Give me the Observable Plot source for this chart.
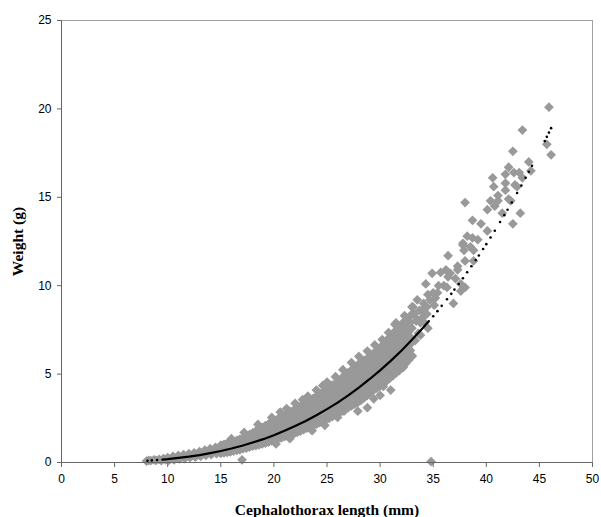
<!DOCTYPE html>
<html>
<head>
<meta charset="utf-8">
<script src="https://cdn.jsdelivr.net/npm/d3@7"></script>
<script src="https://cdn.jsdelivr.net/npm/@observablehq/plot@0.6"></script>
<style>
  body { margin: 0; background: #fff; }
</style>
</head>
<body>
<div id="chart"></div>
<script>
// Axis ticks
const xTicks = [0, 5, 10, 15, 20, 25, 30, 35, 40, 45, 50];
const yTicks = [0, 5, 10, 15, 20, 25];

const obsLength = [
  8.0, 8.2, 8.4, 8.7, 8.9, 9.2, 9.4, 9.6, 9.8, 10.0, 10.1,
  10.3, 10.5, 10.6, 10.8, 11.0, 11.1, 11.3, 11.5, 11.6, 11.8, 12.0, 12.1, 12.3, 12.5, 12.6, 12.8, 13.0, 13.1, 13.3,
  13.5, 13.6, 13.8, 14.0, 14.1, 14.3, 14.5, 14.6, 14.8,
  17.0,
  15.0, 15.0, 15.0, 15.0, 15.3, 15.3, 15.3, 15.3, 15.6, 15.6, 15.6, 15.6, 15.9, 15.9, 15.9, 15.9,
  16.2, 16.2, 16.2, 16.2, 16.5, 16.5, 16.5, 16.5, 16.8, 16.8, 16.8, 16.8, 17.1, 17.1, 17.1, 17.1,
  17.4, 17.4, 17.4, 17.4, 17.7, 17.7, 17.7, 17.7, 18.0, 18.0, 18.0, 18.0, 18.3, 18.3, 18.3, 18.3,
  18.6, 18.6, 18.6, 18.6, 18.9, 18.9, 18.9, 18.9, 19.2, 19.2, 19.2, 19.2, 19.5, 19.5, 19.5, 19.5,
  19.8, 19.8, 19.8, 19.8, 20.1, 20.1, 20.1, 20.1, 20.4, 20.4, 20.4, 20.4, 20.7, 20.7, 20.7, 20.7,
  21.0, 21.0, 21.0, 21.0, 21.3, 21.3, 21.3, 21.3, 21.6, 21.6, 21.6, 21.6, 21.9, 21.9, 21.9, 21.9,
  22.2, 22.2, 22.2, 22.2, 22.5, 22.5, 22.5, 22.5, 22.8, 22.8, 22.8, 22.8, 23.1, 23.1, 23.1, 23.1,
  23.4, 23.4, 23.4, 23.4, 23.7, 23.7, 23.7, 23.7, 24.0, 24.0, 24.0, 24.0, 24.3, 24.3, 24.3, 24.3,
  24.6, 24.6, 24.6, 24.6, 24.9, 24.9, 24.9, 24.9, 25.2, 25.2, 25.2, 25.2, 25.5, 25.5, 25.5, 25.5,
  25.8, 25.8, 25.8, 25.8, 26.1, 26.1, 26.1, 26.1, 26.4, 26.4, 26.4, 26.4, 26.7, 26.7, 26.7, 26.7,
  27.0, 27.0, 27.0, 27.0, 27.3, 27.3, 27.3, 27.3, 27.6, 27.6, 27.6, 27.6, 27.9, 27.9, 27.9, 27.9,
  28.2, 28.2, 28.2, 28.2, 28.5, 28.5, 28.5, 28.5, 28.8, 28.8, 28.8, 28.8, 29.1, 29.1, 29.1, 29.1,
  29.4, 29.4, 29.4, 29.4, 29.7, 29.7, 29.7, 29.7, 30.0, 30.0, 30.0, 30.0, 30.3, 30.3, 30.3, 30.3,
  30.6, 30.6, 30.6, 30.6, 30.9, 30.9, 30.9, 30.9, 31.2, 31.2, 31.2, 31.2, 31.5, 31.5, 31.5, 31.5,
  31.8, 31.8, 31.8, 31.8, 32.1, 32.1, 32.1, 32.1, 32.4, 32.4, 32.4, 32.4, 32.7, 32.7, 32.7, 32.7,
  33.0, 33.0, 33.0, 33.0,
  26.0, 26.6, 27.9, 28.8, 29.4, 30.0, 30.3, 31.0, 31.4, 32.2, 33.0, 33.1, 33.2, 33.5, 33.5, 33.7, 33.8, 34.0,
  34.1, 34.3, 34.4, 34.5, 34.5, 34.7, 34.8, 34.9, 35.0, 35.1, 35.2, 35.4, 35.5, 35.7, 36.0, 36.2, 36.3,
  36.4, 36.4, 36.6, 36.9, 37.1, 37.3, 37.3, 37.6, 37.6, 37.8, 37.8, 37.9, 38.0, 38.0, 38.0, 38.2, 38.5,
  38.7, 38.7, 38.8, 38.8, 39.2, 39.5, 40.1, 40.1, 40.4, 40.6, 40.7, 40.8, 41.1, 41.1, 41.5, 41.8, 41.8,
  41.8, 42.1, 42.1, 42.3, 42.5, 42.5, 42.6, 42.7, 42.9, 43.1, 43.2, 43.4, 43.4, 44.0, 44.2, 45.7, 45.9, 46.1
];
const obsWeight = [
  0.08, 0.12, 0.10, 0.15, 0.12, 0.18, 0.10, 0.22, 0.15, 0.28, 0.12,
  0.20, 0.35, 0.15, 0.25, 0.40, 0.20, 0.30, 0.45, 0.22, 0.35, 0.50, 0.28, 0.40, 0.55, 0.30, 0.45, 0.62, 0.35, 0.50,
  0.70, 0.40, 0.58, 0.78, 0.45, 0.62, 0.85, 0.50, 0.70,
  0.15,
  0.52, 0.68, 0.85, 0.98, 0.55, 0.72, 0.90, 1.03, 0.58, 0.75, 0.92, 1.08, 0.60, 0.80, 0.98, 1.14,
  0.65, 0.84, 1.02, 1.18, 0.68, 0.88, 1.08, 1.25, 0.72, 0.94, 1.12, 1.32, 0.78, 0.99, 1.20, 1.38,
  0.82, 1.05, 1.27, 1.48, 0.87, 1.10, 1.35, 1.58, 0.92, 1.18, 1.42, 1.68, 0.96, 1.25, 1.50, 1.78,
  1.00, 1.30, 1.60, 1.88, 1.05, 1.36, 1.68, 1.98, 1.10, 1.42, 1.75, 2.08, 1.16, 1.50, 1.84, 2.18,
  1.22, 1.56, 1.92, 2.28, 1.28, 1.64, 2.00, 2.38, 1.35, 1.72, 2.10, 2.48, 1.40, 1.80, 2.18, 2.58,
  1.46, 1.86, 2.25, 2.68, 1.52, 1.93, 2.35, 2.78, 1.58, 2.00, 2.44, 2.88, 1.64, 2.08, 2.52, 2.98,
  1.70, 2.16, 2.62, 3.08, 1.78, 2.25, 2.72, 3.18, 1.86, 2.32, 2.80, 3.28, 1.94, 2.42, 2.92, 3.42,
  2.00, 2.50, 3.02, 3.52, 2.08, 2.58, 3.10, 3.62, 2.16, 2.68, 3.20, 3.74, 2.25, 2.78, 3.32, 3.88,
  2.34, 2.88, 3.42, 3.98, 2.42, 2.98, 3.56, 4.12, 2.50, 3.06, 3.66, 4.24, 2.60, 3.18, 3.78, 4.38,
  2.70, 3.28, 3.88, 4.48, 2.80, 3.40, 4.00, 4.62, 2.90, 3.50, 4.14, 4.78, 3.00, 3.62, 4.26, 4.92,
  3.10, 3.74, 4.40, 5.08, 3.20, 3.86, 4.54, 5.22, 3.30, 3.98, 4.68, 5.38, 3.40, 4.10, 4.80, 5.52,
  3.52, 4.22, 4.94, 5.66, 3.66, 4.36, 5.06, 5.78, 3.80, 4.50, 5.18, 5.88, 3.96, 4.64, 5.32, 6.02,
  4.10, 4.78, 5.46, 6.18, 4.20, 4.90, 5.60, 6.32, 4.32, 5.04, 5.76, 6.48, 4.46, 5.20, 5.92, 6.68,
  4.60, 5.36, 6.10, 6.88, 4.76, 5.52, 6.28, 7.08, 4.90, 5.68, 6.46, 7.28, 5.06, 5.84, 6.64, 7.48,
  5.20, 6.00, 6.82, 7.68, 5.36, 6.18, 7.00, 7.88, 5.60, 6.40, 7.18, 7.98, 5.80, 6.60, 7.40, 8.20,
  6.00, 6.80, 7.60, 8.40,
  2.55, 2.90, 2.90, 3.10, 3.60, 3.80, 4.30, 4.10, 7.80, 5.40, 6.05, 8.80, 8.40, 8.10, 9.20, 8.60, 7.90, 8.20,
  9.00, 10.10, 8.80, 7.60, 9.50, 9.20, 0.05, 10.70, 9.60, 8.90, 9.30, 9.60, 10.00, 10.75, 10.00, 10.90, 9.90,
  11.70, 10.50, 10.70, 9.00, 10.40, 11.10, 10.90, 9.70, 10.10, 12.30, 12.40, 12.00, 11.40, 9.90, 14.70, 12.80, 12.20,
  12.70, 13.70, 12.00, 11.40, 12.60, 13.50, 13.10, 14.30, 14.80, 16.10, 15.60, 14.50, 15.10, 14.80, 14.10, 16.30, 15.80,
  15.40, 16.70, 14.90, 14.80, 17.60, 13.50, 16.40, 15.70, 15.60, 16.40, 14.10, 16.10, 18.80, 17.00, 16.50, 18.00, 20.10, 17.40
];
// More individuals filling the dense band
const obsLength2 = [
  15.15, 15.15, 15.15, 15.45, 15.45, 15.45, 15.75, 15.75, 15.75, 16.05, 16.05, 16.05,
  16.35, 16.35, 16.35, 16.65, 16.65, 16.65, 16.95, 16.95, 16.95, 17.25, 17.25, 17.25,
  17.55, 17.55, 17.55, 17.85, 17.85, 17.85, 18.15, 18.15, 18.15, 18.45, 18.45, 18.45,
  18.75, 18.75, 18.75, 19.05, 19.05, 19.05, 19.35, 19.35, 19.35, 19.65, 19.65, 19.65,
  19.95, 19.95, 19.95, 20.25, 20.25, 20.25, 20.55, 20.55, 20.55, 20.85, 20.85, 20.85,
  21.15, 21.15, 21.15, 21.45, 21.45, 21.45, 21.75, 21.75, 21.75, 22.05, 22.05, 22.05,
  22.35, 22.35, 22.35, 22.65, 22.65, 22.65, 22.95, 22.95, 22.95, 23.25, 23.25, 23.25,
  23.55, 23.55, 23.55, 23.85, 23.85, 23.85, 24.15, 24.15, 24.15, 24.45, 24.45, 24.45,
  24.75, 24.75, 24.75, 25.05, 25.05, 25.05, 25.35, 25.35, 25.35, 25.65, 25.65, 25.65,
  25.95, 25.95, 25.95, 26.25, 26.25, 26.25, 26.55, 26.55, 26.55, 26.85, 26.85, 26.85,
  27.15, 27.15, 27.15, 27.45, 27.45, 27.45, 27.75, 27.75, 27.75, 28.05, 28.05, 28.05,
  28.35, 28.35, 28.35, 28.65, 28.65, 28.65, 28.95, 28.95, 28.95, 29.25, 29.25, 29.25,
  29.55, 29.55, 29.55, 29.85, 29.85, 29.85, 30.15, 30.15, 30.15, 30.45, 30.45, 30.45,
  30.75, 30.75, 30.75, 31.05, 31.05, 31.05, 31.35, 31.35, 31.35, 31.65, 31.65, 31.65,
  31.95, 31.95, 31.95, 32.25, 32.25, 32.25, 32.55, 32.55, 32.55, 32.85, 32.85, 32.85
];
const obsWeight2 = [
  0.61, 0.79, 0.93, 0.64, 0.80, 1.00, 0.66, 0.85, 1.04, 0.72, 0.88, 1.09,
  0.75, 0.96, 1.13, 0.80, 1.00, 1.22, 0.86, 1.05, 1.28, 0.92, 1.12, 1.35,
  0.96, 1.21, 1.44, 1.03, 1.26, 1.55, 1.08, 1.35, 1.62, 1.12, 1.42, 1.74,
  1.20, 1.47, 1.80, 1.25, 1.58, 1.90, 1.30, 1.64, 2.00, 1.38, 1.70, 2.10,
  1.44, 1.82, 2.18, 1.52, 1.86, 2.30, 1.58, 1.98, 2.36, 1.64, 2.04, 2.48,
  1.72, 2.10, 2.55, 1.78, 2.22, 2.64, 1.83, 2.28, 2.76, 1.92, 2.35, 2.84,
  2.00, 2.46, 2.95, 2.06, 2.53, 3.02, 2.16, 2.66, 3.16, 2.24, 2.74, 3.28,
  2.33, 2.80, 3.36, 2.40, 2.93, 3.48, 2.48, 3.02, 3.60, 2.60, 3.10, 3.70,
  2.68, 3.24, 3.82, 2.76, 3.33, 3.95, 2.88, 3.44, 4.06, 2.96, 3.56, 4.20,
  3.08, 3.64, 4.30, 3.20, 3.80, 4.44, 3.30, 3.90, 4.60, 3.40, 4.05, 4.72,
  3.52, 4.15, 4.88, 3.62, 4.30, 5.00, 3.74, 4.40, 5.16, 3.84, 4.55, 5.30,
  3.96, 4.65, 5.42, 4.10, 4.80, 5.55, 4.26, 4.92, 5.66, 4.40, 5.10, 5.82,
  4.54, 5.20, 5.96, 4.64, 5.35, 6.10, 4.78, 5.48, 6.26, 4.94, 5.68, 6.45,
  5.10, 5.82, 6.64, 5.26, 6.02, 6.84, 5.42, 6.18, 7.02, 5.58, 6.36, 7.20,
  5.72, 6.55, 7.40, 5.92, 6.70, 7.56, 6.12, 6.92, 7.70, 6.34, 7.10, 7.92
];
// Individuals on the ragged upper edge of the band and beyond its end
const obsLength3 = [
  16.0, 17.2, 18.5, 19.8, 20.6, 21.2, 22.0, 22.7, 23.2, 24.0, 24.6, 25.0, 25.8, 26.5, 27.3, 28.0, 28.8, 29.5,
  30.2, 30.8, 31.5, 32.3, 33.0, 33.3, 33.4, 33.6, 33.8, 33.9, 34.2, 34.4, 21.5, 23.6, 24.8, 20.2
];
const obsWeight3 = [
  1.35, 1.70, 2.15, 2.55, 2.85, 3.05, 3.35, 3.55, 3.75, 4.10, 4.35, 4.55, 4.85, 5.25, 5.65, 6.00, 6.30, 6.65,
  6.95, 7.35, 7.90, 8.30, 8.80, 6.90, 8.00, 7.30, 7.20, 8.60, 7.90, 8.40, 1.35, 1.80, 2.10, 1.05
];

// Fitted weight-length curve
const fitLineLength = [9.5, 10, 11, 12, 13, 14, 15, 16, 17, 18, 19, 20, 21, 22, 23, 24, 25, 26, 27, 28, 29, 30, 31, 32, 33, 34, 34.6];
const fitLineWeight = [0.165, 0.19, 0.26, 0.33, 0.42, 0.53, 0.65, 0.79, 0.95, 1.13, 1.32, 1.54, 1.79, 2.06, 2.35, 2.67, 3.02, 3.39, 3.80, 4.24, 4.71, 5.21, 5.75, 6.32, 6.94, 7.59, 8.00];
const fitDotLength = [8.1, 8.5, 9.0, 35.0, 35.4, 35.8, 36.3, 36.7, 37.0, 37.4, 37.8, 38.2, 38.6, 39.0, 39.3, 39.7, 40.0, 40.4, 40.8, 41.3, 41.7, 42.0, 42.4, 42.9, 43.3, 43.7, 44.0, 44.3, 45.5, 45.7, 45.9, 46.1];
const fitDotWeight = [0.10, 0.12, 0.14, 8.27, 8.56, 8.86, 9.23, 9.54, 9.78, 10.10, 10.42, 10.76, 11.10, 11.45, 11.71, 12.08, 12.35, 12.73, 13.11, 13.60, 13.99, 14.30, 14.71, 15.24, 15.67, 16.11, 16.44, 16.78, 18.18, 18.42, 18.66, 18.91];

const obs = obsLength.map((l, i) => ({l, w: obsWeight[i]}))
  .concat(obsLength2.map((l, i) => ({l, w: obsWeight2[i]})))
  .concat(obsLength3.map((l, i) => ({l, w: obsWeight3[i]})));
const fitLine = fitLineLength.map((l, i) => ({l, w: fitLineWeight[i]}));
const fitDots = fitDotLength.map((l, i) => ({l, w: fitDotWeight[i]}));

const chart = Plot.plot({
  width: 601,
  height: 517,
  marginLeft: 61,
  marginRight: 9,
  marginTop: 20,
  marginBottom: 55,
  style: {fontFamily: "'Liberation Sans', Arial, sans-serif", fontSize: "12px", color: "#000", background: "#fff"},
  x: {domain: [0, 50]},
  y: {domain: [0, 25]},
  marks: [
    Plot.frame({stroke: "#a0a0a0"}),
    Plot.dot(obs, {x: "l", y: "w", symbol: "diamond2", r: 4.4, fill: "#999999", stroke: "none"}),
    Plot.line(fitLine, {x: "l", y: "w", stroke: "#000", strokeWidth: 2.2}),
    Plot.dot(fitDots, {x: "l", y: "w", r: 1.3, fill: "#000", stroke: "none"}),
    Plot.ruleX([0], {stroke: "#666"}),
    Plot.ruleY([0], {stroke: "#666"}),
    Plot.axisX({ticks: xTicks, tickSize: 5, tickPadding: 7, stroke: "#666", fill: "#000", label: null, fontSize: 12}),
    Plot.axisY({ticks: yTicks, tickSize: 4, tickPadding: 6, stroke: "#666", fill: "#000", label: null, fontSize: 12}),
    Plot.text(["Cephalothorax length (mm)"], {frameAnchor: "bottom", dy: 48, lineAnchor: "middle", textAnchor: "middle", fontFamily: "'Liberation Serif', 'Times New Roman', serif", fontWeight: "bold", fontSize: 15.5, fill: "#000"}),
    Plot.text(["Weight (g)"], {frameAnchor: "left", dx: -43, rotate: -90, lineAnchor: "middle", textAnchor: "middle", fontFamily: "'Liberation Serif', 'Times New Roman', serif", fontWeight: "bold", fontSize: 15.5, fill: "#000"})
  ]
});
document.getElementById("chart").appendChild(chart);
</script>
</body>
</html>
